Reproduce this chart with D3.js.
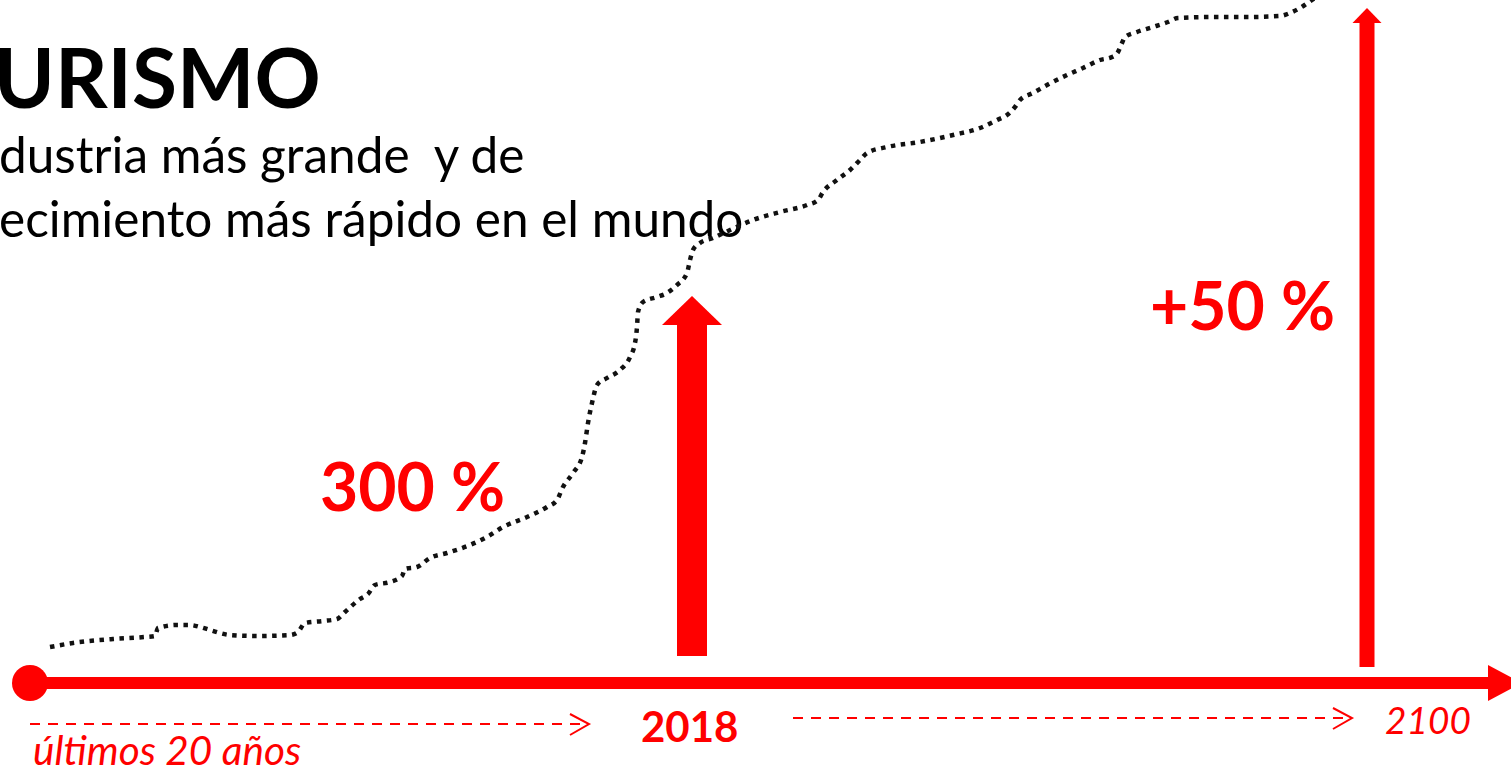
<!DOCTYPE html>
<html>
<head>
<meta charset="utf-8">
<script src="https://cdn.jsdelivr.net/npm/d3@7"></script>
<style>
  html, body { margin: 0; padding: 0; background: #fff; overflow: hidden; }
  svg { display: block; }
  text { white-space: pre; }
</style>
</head>
<body>
<svg id="chart" width="1511" height="772"></svg>
<script>
// ---- data ----
// growth curve (position along timeline, index level above the axis)
const curveX = [18,41,81,113,123,126,145,158,168,178,198,225,258,266,273,291,305,313,328,336,343,358,370,373,385,398,415,438,455,471,495,515,525,531,541,550,553,556,560,565,575,588,598,603,605,606,611,625,635,645,655,658,661,668,681,698,721,748,775,786,791,805,818,828,835,855,888,921,948,965,975,983,988,1001,1015,1035,1051,1068,1080,1086,1090,1093,1105,1121,1136,1146,1181,1215,1248,1258,1268,1280,1286];
const curveY = [36,40,44,46,47,55,58,58,56,53,48,47,48,51,60,62,64,71,84,89,98,101,107,114,116,125,130,138,146,156,166,176,183,196,210,226,240,260,280,298,305,313,326,340,356,371,381,386,390,398,410,423,433,440,445,453,463,471,478,483,491,503,513,523,530,536,541,548,555,563,568,576,583,590,598,608,615,623,626,631,640,646,651,656,661,665,666,666,667,670,675,683,687];

// timeline marks
const milestoneNames  = ["2018", "2100"];
const milestoneX      = [660, 1335];
const milestoneBase   = [27, 16];
const milestoneTop    = [387, 675];
const milestoneLabels = ["300 %", "+50 %"];
const periodLabel     = "últimos 20 años";
const axisStart = -2, axisEnd = 1490;

const titleText = "URISMO";
const subtitleLines = ["dustria más grande  y de", "ecimiento más rápido en el mundo"];

// ---- scales ----
const x = d3.scaleLinear().domain([0, 1479]).range([32, 1511]);
const y = d3.scaleLinear().domain([0, 683]).range([683, 0]);

const svg = d3.select("#chart");
const RED = "#ff0000";
const FONT = "Lato, 'Open Sans', sans-serif";

// title
svg.append("text").attr("x", -6).attr("y", 108)
  .attr("font-family", FONT).attr("font-weight", 700).attr("font-size", 82)
  .attr("fill", "#000").text(titleText);
subtitleLines.forEach((t, i) => {
  svg.append("text").attr("x", -1).attr("y", 173 + i * 64)
    .attr("font-family", FONT).attr("font-size", 49.5).attr("fill", "#000").text(t);
});

// curve
const pts = curveX.map((v, i) => [v, curveY[i]]);
const line = d3.line().x(d => x(d[0])).y(d => y(d[1])).curve(d3.curveMonotoneX);
svg.append("path").attr("d", line(pts))
  .attr("fill", "none").attr("stroke", "#111").attr("stroke-width", 4.5)
  .attr("stroke-dasharray", "4.5,5.5");

// main axis
const axisY = y(0);
svg.append("line").attr("x1", x(axisStart)).attr("x2", x(axisEnd) - 30)
  .attr("y1", axisY).attr("y2", axisY).attr("stroke", RED).attr("stroke-width", 12);
svg.append("circle").attr("cx", x(axisStart)).attr("cy", axisY).attr("r", 18).attr("fill", RED);
svg.append("path")
  .attr("d", `M${x(axisEnd) - 34},${axisY - 18} L${x(axisEnd)},${axisY} L${x(axisEnd) - 34},${axisY + 18} Z`)
  .attr("fill", RED);

// milestone arrows
const shaftW = [30, 15], headW = [60, 29], headH = [29, 15];
milestoneX.forEach((mx, i) => {
  const cx = x(mx), yb = y(milestoneBase[i]), yt = y(milestoneTop[i]);
  const hb = yt + headH[i];
  svg.append("rect").attr("x", cx - shaftW[i] / 2).attr("y", hb - 0.5)
    .attr("width", shaftW[i]).attr("height", yb - hb + 0.5).attr("fill", RED);
  svg.append("path")
    .attr("d", `M${cx - headW[i] / 2},${hb} L${cx},${yt} L${cx + headW[i] / 2},${hb} Z`)
    .attr("fill", RED);
});

// percentage labels
svg.append("text").attr("x", 320).attr("y", 511)
  .attr("font-family", FONT).attr("font-weight", 700).attr("font-size", 66)
  .attr("fill", RED).text(milestoneLabels[0]);
svg.append("text").attr("x", 1150).attr("y", 330)
  .attr("font-family", FONT).attr("font-weight", 700).attr("font-size", 66)
  .attr("fill", RED).text(milestoneLabels[1]);

// year labels
svg.append("text").attr("x", 641).attr("y", 742)
  .attr("font-family", FONT).attr("font-weight", 700).attr("font-size", 42)
  .attr("fill", RED).text(milestoneNames[0]);
svg.append("text").attr("x", 1385).attr("y", 734)
  .attr("font-family", FONT).attr("font-style", "italic").attr("font-size", 37)
  .attr("fill", RED).text(milestoneNames[1]);
svg.append("text").attr("x", 33).attr("y", 765)
  .attr("font-family", FONT).attr("font-style", "italic").attr("font-size", 40.5)
  .attr("fill", RED).text(periodLabel);

// dashed time arrows
function dashedArrow(x1, x2, yy) {
  svg.append("line").attr("x1", x1).attr("x2", x2 - 2).attr("y1", yy).attr("y2", yy)
    .attr("stroke", RED).attr("stroke-width", 2).attr("stroke-dasharray", "10,8");
  svg.append("path").attr("d", `M${x2 - 19},${yy - 10} L${x2},${yy} L${x2 - 19},${yy + 11}`)
    .attr("fill", "none").attr("stroke", RED).attr("stroke-width", 2);
}
dashedArrow(30, 589, 724);
dashedArrow(793, 1352, 718);
</script>
</body>
</html>
